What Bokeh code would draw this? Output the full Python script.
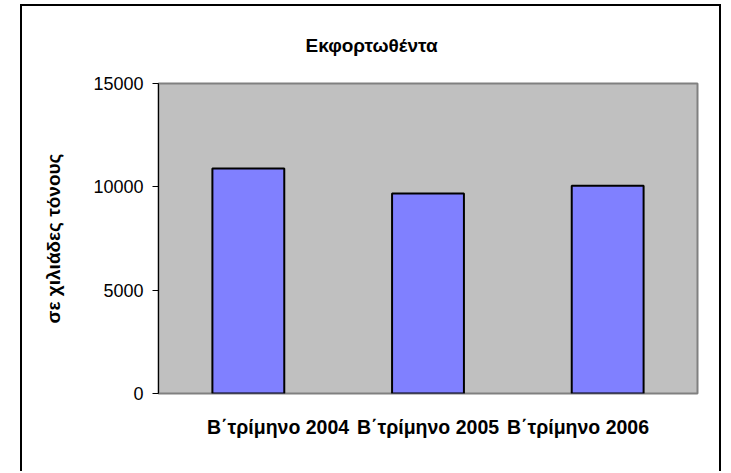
from bokeh.plotting import figure
from bokeh.models import Range1d, FixedTicker, LinearAxis
from bokeh.embed import file_html
from bokeh.resources import INLINE

categories = ["Β΄τρίμηνο 2004", "Β΄τρίμηνο 2005", "Β΄τρίμηνο 2006"]
values = [10890, 9680, 10050]
y_ticks = [0, 5000, 10000, 15000]
title_text = "Εκφορτωθέντα"
y_label = "σε χιλιάδες τόνους"

FONT = "Liberation Sans"

positions = list(range(len(categories)))

p = figure(x_range=Range1d(-0.5, len(categories) - 0.5), y_range=Range1d(0, 15000),
           width=701, height=467, output_backend="svg", toolbar_location=None,
           min_border_left=136, min_border_right=26, min_border_top=77, min_border_bottom=80)

p.styles = {"border-top": "2px solid black", "border-left": "2px solid black",
            "border-right": "2px solid black", "margin-left": "20px", "margin-top": "4px"}

p.background_fill_color = "#C0C0C0"
p.border_fill_color = "white"
p.outline_line_color = "#808080"
p.outline_line_width = 2
p.xgrid.grid_line_color = None
p.ygrid.grid_line_color = None

p.vbar(x=positions, top=values, width=0.4, bottom=0,
       fill_color="#8080FF", line_color="black", line_width=2)

p.title.text = title_text
p.title.align = "left"
p.title.vertical_align = "top"
p.title.offset = 147
p.title.standoff = 51
p.title.text_font = FONT
p.title.text_font_size = "19px"
p.title.text_font_style = "bold"
p.title.text_color = "black"

ya = p.yaxis[0]
ya.ticker = FixedTicker(ticks=y_ticks)
ya.minor_tick_line_color = None
ya.major_tick_in = 0
ya.major_tick_out = 6
ya.major_tick_line_color = "black"
ya.axis_line_color = "black"
ya.major_label_standoff = 9
ya.major_label_text_font = FONT
ya.major_label_text_font_size = "18px"
ya.major_label_text_color = "black"
ya.axis_label = y_label
ya.axis_label_text_font = FONT
ya.axis_label_text_font_size = "19px"
ya.axis_label_text_font_style = "bold"
ya.axis_label_text_color = "black"
ya.axis_label_standoff = 26

# default x axis hidden; the category labels use their own axis
p.xaxis.visible = False

# category labels as Excel lays them out (compressed around the middle bar)
p.extra_x_ranges = {"labels": Range1d(-0.797, 2.797)}
xa = LinearAxis(x_range_name="labels",
                ticker=FixedTicker(ticks=positions),
                major_label_overrides={i: c for i, c in zip(positions, categories)})
xa.axis_line_color = None
xa.major_tick_line_color = None
xa.minor_tick_line_color = None
xa.major_label_standoff = 16
xa.major_label_text_font = FONT
xa.major_label_text_font_size = "19.5px"
xa.major_label_text_font_style = "bold"
xa.major_label_text_color = "black"
p.add_layout(xa, "below")

open("out.html", "w").write(file_html(p, INLINE))
